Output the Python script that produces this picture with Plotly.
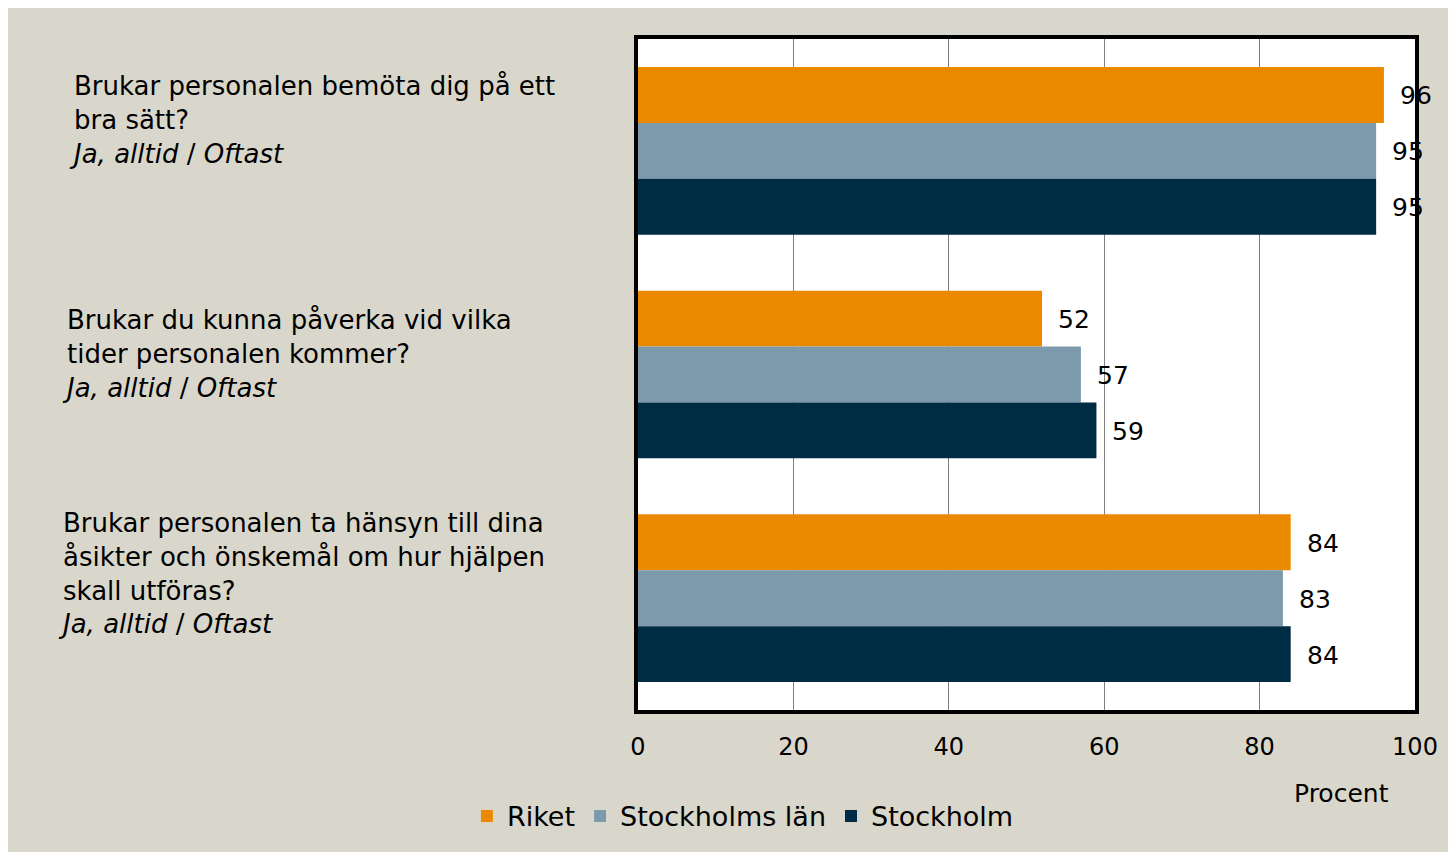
import plotly.graph_objects as go

questions = [
    "Brukar personalen bemöta dig på ett<br>bra sätt?<br><i>Ja, alltid</i> / <i>Oftast</i>",
    "Brukar du kunna påverka vid vilka<br>tider personalen kommer?<br><i>Ja, alltid</i> / <i>Oftast</i>",
    "Brukar personalen ta hänsyn till dina<br>åsikter och önskemål om hur hjälpen<br>skall utföras?<br><i>Ja, alltid</i> / <i>Oftast</i>",
]
cats = ["q1", "q2", "q3"]
series = ["Riket", "Stockholms län", "Stockholm"]
riket = [96, 52, 84]
stockholms_lan = [95, 57, 83]
stockholm = [95, 59, 84]
x_ticks = [0, 20, 40, 60, 80, 100]

colors = ["#EB8A00", "#7D9AAD", "#002B45"]
values = [riket, stockholms_lan, stockholm]
FONT = "DejaVu Sans"

fig = go.Figure()
for name, vals, col in zip(series, values, colors):
    fig.add_trace(go.Bar(
        y=cats, x=vals, name=name, orientation="h",
        marker=dict(color=col, line=dict(width=0)),
    ))

annotations = []
# question labels on the left
label_x = [-0.735, -0.744, -0.749]
label_shift = [31, 21, 25]
for c, q, lx, sh in zip(cats, questions, label_x, label_shift):
    annotations.append(dict(
        x=lx, xref="paper", y=c, yref="y", text=q, showarrow=False,
        xanchor="left", yanchor="middle", align="left", yshift=sh,
        font=dict(size=26, color="black", family=FONT),
    ))

# value labels
for i, vals in enumerate(values):
    for c, v in zip(cats, vals):
        annotations.append(dict(
            x=v, xref="x", y=c, yref="y", text=str(v), showarrow=False,
            xanchor="left", yanchor="middle", xshift=14, yshift=(1 - i) * 56 - 1,
            font=dict(size=25, color="black", family=FONT),
        ))

annotations.append(dict(
    x=0.906, xref="paper", y=-0.125, yref="paper", text="Procent",
    showarrow=False, xanchor="center", yanchor="middle",
    font=dict(size=25, color="black", family=FONT),
))

fig.update_layout(
    width=1456, height=852,
    margin=dict(l=630, r=49, t=31, b=150),
    paper_bgcolor="#D9D7CB",
    plot_bgcolor="white",
    barmode="group",
    bargap=0.25,
    bargroupgap=0,
    font=dict(family=FONT, color="black", size=24),
    showlegend=True,
    legend=dict(
        orientation="h", x=0.135, xanchor="center", y=-0.122, yanchor="top",
        font=dict(size=27, color="black", family=FONT),
        bgcolor="rgba(0,0,0,0)", itemwidth=30, tracegroupgap=0,
    ),
    xaxis=dict(
        range=[0, 100], tickvals=x_ticks, ticktext=[str(t) for t in x_ticks],
        showgrid=True, gridcolor="#808080", gridwidth=1,
        showline=True, linecolor="black", linewidth=4, mirror=True,
        ticks="outside", ticklen=12, tickcolor="rgba(0,0,0,0)",
        tickfont=dict(size=24, color="black", family=FONT),
        zeroline=False,
    ),
    yaxis=dict(
        autorange="reversed", showticklabels=False,
        showline=True, linecolor="black", linewidth=4, mirror=True,
        showgrid=False, ticks="",
    ),
    annotations=annotations,
)

fig.write_html("out.html")
